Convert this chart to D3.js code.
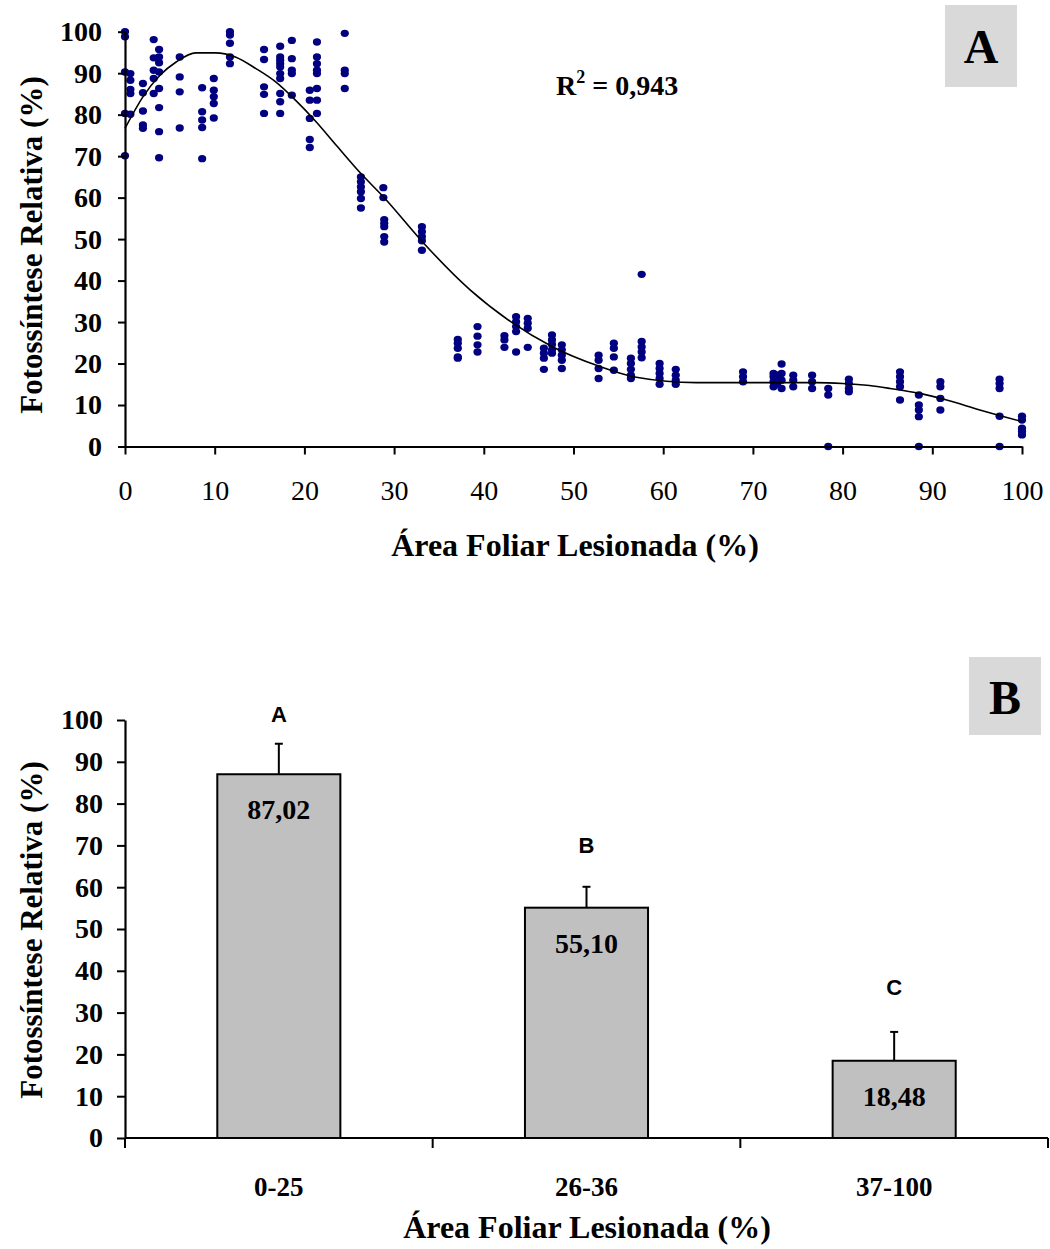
<!DOCTYPE html>
<html>
<head>
<meta charset="utf-8">
<script src="https://cdn.jsdelivr.net/npm/d3@7"></script>
<style>
  html, body { margin: 0; padding: 0; background: #fff; }
  svg { display: block; }
  .serif { font-family: "Liberation Serif", "Times New Roman", serif; }
  .sans { font-family: "Liberation Sans", Arial, sans-serif; }
</style>
</head>
<body>
<svg id="chart" width="1050" height="1249"></svg>
<script>
// ---- Panel A: photosynthesis vs. injured leaf area (scatter + fitted curve) ----
const lesionColumns = [0.0, 0.6, 2.0, 3.2, 3.8, 6.1, 8.6, 9.9, 11.7, 15.5, 17.3, 18.6, 20.6, 21.4, 24.5,
  26.3, 28.8, 28.9, 33.1, 37.1, 39.3, 42.3, 43.6, 44.9, 46.7, 47.6, 48.7, 52.8, 54.5, 56.4, 57.6,
  59.6, 61.4, 68.9, 72.3, 72.7, 73.2, 74.5, 76.6, 78.4, 80.7, 86.4, 88.5, 90.9, 97.5, 100];
const photoByColumn = [
  [100, 98.8, 90.3, 80.3, 70.1],
  [89.9, 88.3, 86.1, 85.1, 80.1],
  [87.5, 85.3, 80.9, 77.5, 76.7],
  [98.1, 93.7, 90.7, 88.7, 85.1],
  [95.7, 93.9, 92.5, 90.3, 86.3, 81.7, 75.9, 69.6],
  [93.9, 89.1, 85.5, 76.8],
  [86.5, 80.7, 78.7, 76.9, 69.4],
  [88.7, 85.9, 84.3, 82.7, 79.2],
  [100, 99.2, 97.2, 93.9, 92.3],
  [95.7, 93.3, 86.7, 84.9, 80.3],
  [96.5, 93.9, 93.1, 92.3, 91.5, 89.9, 88.7, 85.1, 83.1, 80.3],
  [97.9, 93.5, 90.7, 89.9, 84.7],
  [85.9, 83.5, 79.1, 74.0, 72.1],
  [97.5, 93.9, 92.3, 90.7, 89.9, 86.3, 83.5, 80.3],
  [99.6, 90.7, 89.9, 86.3],
  [65.0, 63.8, 62.6, 61.4, 59.8, 57.5],
  [62.4, 60.0],
  [54.7, 53.8, 53.0, 50.6, 49.3],
  [53.0, 51.8, 50.6, 49.6, 47.3],
  [25.8, 24.9, 23.7, 21.6, 21.3],
  [28.9, 26.6, 24.5, 22.8],
  [26.7, 25.7, 23.9],
  [31.3, 30.1, 28.9, 27.7, 22.8],
  [30.9, 29.7, 28.5, 23.9],
  [23.7, 22.5, 21.3, 18.6],
  [26.9, 25.7, 24.6, 23.3, 22.5],
  [24.5, 23.3, 22.0, 20.8, 18.8],
  [22.0, 20.8, 18.8, 16.4],
  [24.9, 23.7, 21.6, 18.4],
  [21.3, 20.0, 18.6, 17.2, 16.4],
  [41.5, 25.3, 24.0, 22.8, 21.4],
  [20.0, 18.8, 17.6, 16.4, 15.0],
  [18.6, 17.2, 16.0, 15.0],
  [18.0, 16.8, 15.6],
  [17.6, 16.8, 15.6, 14.4],
  [17.2, 16.0, 15.0],
  [19.9, 17.6, 16.0, 14.0],
  [17.2, 16.0, 14.4],
  [17.2, 15.6, 14.0],
  [14.0, 12.4, 0],
  [16.2, 15.2, 14.0, 13.2],
  [18.0, 16.8, 15.6, 14.4, 11.2],
  [12.4, 10.0, 8.8, 7.2, 0],
  [15.6, 14.4, 11.6, 8.8],
  [16.2, 15.2, 14.0, 7.3, 0],
  [7.3, 6.4, 4.4, 3.6, 2.8]
];
// fitted regression curve, sampled along x
const fitX = [0, 2, 3.9, 5.7, 7.9, 10.1, 12.3, 14.6, 16.8, 19, 21.3, 23.6, 26.3, 28.8, 33.3, 38.5, 43, 47.7, 52.8, 57, 63.7, 70, 77, 80, 83, 85.3, 88.6, 91.6, 95.3, 100];
const fitY = [76.7, 84.3, 89.5, 92.7, 94.9, 94.9, 93.9, 91.1, 87.9, 83.5, 78.3, 72.5, 65.8, 60.2, 49.0, 37.7, 30.1, 24.0, 19.4, 16.7, 15.4, 15.4, 15.4, 15.2, 14.7, 14.0, 12.8, 11.2, 8.8, 6.0];
const r2Value = "0,943";
const axisTicksA = [0, 10, 20, 30, 40, 50, 60, 70, 80, 90, 100];

// ---- Panel B: mean relative photosynthesis by injury class ----
const classes = ["0-25", "26-36", "37-100"];
const classMeans = [87.02, 55.10, 18.48];
const classErrors = [7.3, 5.0, 6.9];
const classLetters = ["A", "B", "C"];
const meanLabels = ["87,02", "55,10", "18,48"];
const axisTicksB = [0, 10, 20, 30, 40, 50, 60, 70, 80, 90, 100];

const yTitle = "Fotossíntese Relativa (%)";
const xTitle = "Área Foliar Lesionada (%)";

const svg = d3.select("#chart");
const dotColor = "#000080";

// ================= Panel A =================
const xA = d3.scaleLinear().domain([0, 100]).range([125, 1022]);
const yA = d3.scaleLinear().domain([0, 100]).range([446.5, 31.7]);
const gA = svg.append("g");

// label box
gA.append("rect").attr("x", 945).attr("y", 5).attr("width", 72).attr("height", 82).attr("fill", "#d9d9d9");
gA.append("text").attr("class", "serif").attr("x", 981).attr("y", 63).attr("text-anchor", "middle")
  .attr("font-size", 48).attr("font-weight", "bold").text("A");

// points
const pts = [];
lesionColumns.forEach((x, i) => photoByColumn[i].forEach(y => pts.push([x, y])));
gA.append("g").selectAll("ellipse").data(pts).join("ellipse")
  .attr("cx", d => xA(d[0])).attr("cy", d => yA(d[1]))
  .attr("rx", 4.1).attr("ry", 3.7).attr("fill", dotColor);

// fitted curve
const fitPts = fitX.map((x, i) => [x, fitY[i]]);
gA.append("path").datum(fitPts)
  .attr("d", d3.line().x(d => xA(d[0])).y(d => yA(d[1])).curve(d3.curveMonotoneX))
  .attr("fill", "none").attr("stroke", "#000").attr("stroke-width", 1.6);

// axes
const axA_x = gA.append("g").attr("transform", `translate(0,${yA(0)})`)
  .call(d3.axisBottom(xA).tickValues(axisTicksA).tickSize(8).tickSizeOuter(0).tickPadding(26).tickFormat(d3.format("d")));
axA_x.select(".domain").attr("stroke-width", 2.2);
axA_x.selectAll(".tick line").attr("stroke-width", 2);
axA_x.selectAll("text").attr("class", "serif").attr("font-size", 28).attr("fill", "#000");

const axA_y = gA.append("g").attr("transform", `translate(${xA(0)},0)`)
  .call(d3.axisLeft(yA).tickValues(axisTicksA).tickSize(7).tickSizeOuter(0).tickPadding(16).tickFormat(d3.format("d")));
axA_y.select(".domain").attr("stroke-width", 2.2);
axA_y.selectAll(".tick line").attr("stroke-width", 2);
axA_y.selectAll("text").attr("class", "serif").attr("font-size", 28).attr("font-weight", "bold").attr("fill", "#000");

// R² annotation
const r2 = gA.append("text").attr("class", "serif").attr("x", 556).attr("y", 95)
  .attr("font-size", 28).attr("font-weight", "bold");
r2.append("tspan").text("R");
r2.append("tspan").attr("dy", -12).attr("font-size", 18).text("2");
r2.append("tspan").attr("dy", 12).text(" = " + r2Value);

// titles
gA.append("text").attr("class", "serif").attr("x", 575).attr("y", 556).attr("text-anchor", "middle")
  .attr("font-size", 32).attr("font-weight", "bold").text(xTitle);
gA.append("text").attr("class", "serif").attr("transform", "translate(42,245) rotate(-90)")
  .attr("text-anchor", "middle").attr("font-size", 31).attr("font-weight", "bold").text(yTitle);

// ================= Panel B =================
const xB = d3.scaleBand().domain(classes).range([125, 1048]).paddingInner(0.6).paddingOuter(0.3);
const yB = d3.scaleLinear().domain([0, 100]).range([1138, 720]);
const gB = svg.append("g");

gB.append("rect").attr("x", 969).attr("y", 657).attr("width", 72).attr("height", 78).attr("fill", "#d9d9d9");
gB.append("text").attr("class", "serif").attr("x", 1005).attr("y", 714).attr("text-anchor", "middle")
  .attr("font-size", 48).attr("font-weight", "bold").text("B");

const letterGap = [22, 34, 37];
const bars = gB.append("g").selectAll("g").data(classes).join("g");
// error bars (drawn first so the bar outline sits over the stem base)
bars.append("line")
  .attr("x1", d => xB(d) + xB.bandwidth() / 2).attr("x2", d => xB(d) + xB.bandwidth() / 2)
  .attr("y1", (d, i) => yB(classMeans[i])).attr("y2", (d, i) => yB(classMeans[i] + classErrors[i]))
  .attr("stroke", "#000").attr("stroke-width", 2);
bars.append("line")
  .attr("x1", d => xB(d) + xB.bandwidth() / 2 - 4).attr("x2", d => xB(d) + xB.bandwidth() / 2 + 4)
  .attr("y1", (d, i) => yB(classMeans[i] + classErrors[i])).attr("y2", (d, i) => yB(classMeans[i] + classErrors[i]))
  .attr("stroke", "#000").attr("stroke-width", 2);
bars.append("rect")
  .attr("x", d => xB(d)).attr("width", xB.bandwidth())
  .attr("y", (d, i) => yB(classMeans[i])).attr("height", (d, i) => yB(0) - yB(classMeans[i]))
  .attr("fill", "#c0c0c0").attr("stroke", "#000").attr("stroke-width", 2);
bars.append("text").attr("class", "serif")
  .attr("x", d => xB(d) + xB.bandwidth() / 2).attr("y", (d, i) => yB(classMeans[i]) + 45)
  .attr("text-anchor", "middle").attr("font-size", 28).attr("font-weight", "bold")
  .text((d, i) => meanLabels[i]);
bars.append("text").attr("class", "sans")
  .attr("x", d => xB(d) + xB.bandwidth() / 2)
  .attr("y", (d, i) => yB(classMeans[i] + classErrors[i]) - letterGap[i])
  .attr("text-anchor", "middle").attr("font-size", 22).attr("font-weight", "bold")
  .text((d, i) => classLetters[i]);

// x axis with ticks at category boundaries
const axB_x = gB.append("g").attr("transform", `translate(0,${yB(0)})`);
axB_x.append("line").attr("x1", 125).attr("x2", 1048).attr("stroke", "#000").attr("stroke-width", 2.2);
const bounds = [0, 1, 2, 3].map(i => 125 + i * xB.step());
axB_x.selectAll(".bt").data(bounds).join("line").attr("class", "bt")
  .attr("x1", d => d).attr("x2", d => d).attr("y1", 0).attr("y2", 10)
  .attr("stroke", "#000").attr("stroke-width", 2);
axB_x.selectAll(".cl").data(classes).join("text").attr("class", "serif cl")
  .attr("x", d => xB(d) + xB.bandwidth() / 2).attr("y", 58)
  .attr("text-anchor", "middle").attr("font-size", 27).attr("font-weight", "bold").text(d => d);

const axB_y = gB.append("g").attr("transform", `translate(125,0)`)
  .call(d3.axisLeft(yB).tickValues(axisTicksB).tickSize(8).tickSizeOuter(0).tickPadding(14).tickFormat(d3.format("d")));
axB_y.select(".domain").attr("stroke-width", 2.2);
axB_y.selectAll(".tick line").attr("stroke-width", 2);
axB_y.selectAll("text").attr("class", "serif").attr("font-size", 28).attr("font-weight", "bold").attr("fill", "#000");

gB.append("text").attr("class", "serif").attr("x", 587).attr("y", 1238).attr("text-anchor", "middle")
  .attr("font-size", 32).attr("font-weight", "bold").text(xTitle);
gB.append("text").attr("class", "serif").attr("transform", "translate(42,930) rotate(-90)")
  .attr("text-anchor", "middle").attr("font-size", 31).attr("font-weight", "bold").text(yTitle);
</script>
</body>
</html>
